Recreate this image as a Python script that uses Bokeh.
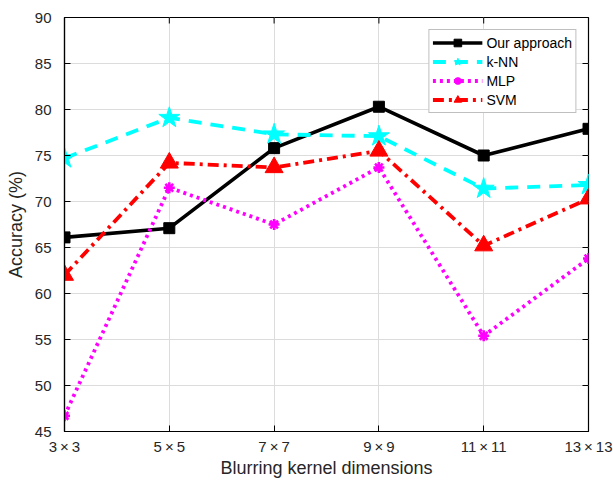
import math
from bokeh.plotting import figure
from bokeh.models import FixedTicker, Range1d
from bokeh.embed import file_html
from bokeh.resources import INLINE

kernel_sizes = [3, 5, 7, 9, 11, 13]
kernel_labels = ["3\u2009×\u20093", "5\u2009×\u20095", "7\u2009×\u20097", "9\u2009×\u20099",
                 "11\u2009×\u200911", "13\u2009×\u200913"]
y_ticks = [45, 50, 55, 60, 65, 70, 75, 80, 85, 90]

ours = [66.1, 67.1, 75.8, 80.3, 75.0, 77.9]
knn = [74.7, 79.1, 77.3, 77.1, 71.4, 71.8]
mlp = [46.7, 71.5, 67.5, 73.7, 55.4, 63.8]
svm = [62.0, 74.2, 73.7, 75.5, 65.2, 70.3]

FONT = "Liberation Sans"
X_MIN, X_MAX = kernel_sizes[0], kernel_sizes[-1]
Y_MIN, Y_MAX = y_ticks[0], y_ticks[-1]

p = figure(width=613, height=480, output_backend="svg", toolbar_location=None,
           x_range=Range1d(X_MIN, X_MAX), y_range=Range1d(Y_MIN, Y_MAX),
           min_border_left=64, min_border_right=25, min_border_top=17,
           min_border_bottom=49)
p.outline_line_color = "black"
p.outline_line_width = 1.2

for ax in (p.xaxis[0], p.yaxis[0]):
    ax.major_tick_in = 6
    ax.major_tick_out = 0
    ax.minor_tick_in = 0
    ax.minor_tick_out = 0
    ax.axis_line_color = "black"
    ax.axis_line_width = 1.2
    ax.major_tick_line_color = "black"
    ax.major_label_text_font = FONT
    ax.major_label_text_font_size = "15px"
    ax.major_label_text_color = "#262626"
    ax.axis_label_text_font = FONT
    ax.axis_label_text_font_size = "18px"
    ax.axis_label_text_font_style = "normal"
    ax.axis_label_text_color = "#262626"

p.xaxis.ticker = FixedTicker(ticks=kernel_sizes)
p.xaxis.major_label_overrides = {k: l for k, l in zip(kernel_sizes, kernel_labels)}
p.xaxis.axis_label = "Blurring kernel dimensions"
p.xaxis.axis_label_standoff = 0
p.xaxis.major_label_standoff = 6
p.yaxis.ticker = FixedTicker(ticks=y_ticks)
p.yaxis.axis_label = "Accuracy (%)"
p.yaxis.major_label_standoff = 13
p.yaxis.axis_label_standoff = 6

# inward ticks on the right and top edges of the box
p.ray(x=[X_MAX] * len(y_ticks), y=y_ticks, length=6, length_units="screen",
      angle=math.pi, color="black", line_width=1)
p.ray(x=kernel_sizes, y=[Y_MAX] * len(kernel_sizes), length=6, length_units="screen",
      angle=-math.pi / 2, color="black", line_width=1)

p.xgrid.ticker = FixedTicker(ticks=kernel_sizes)
p.ygrid.ticker = FixedTicker(ticks=y_ticks)
p.grid.grid_line_color = "#dcdcdc"
p.grid.grid_line_width = 1

p.line(kernel_sizes, ours, color="black", line_width=3.6, legend_label="Our approach")
p.scatter(kernel_sizes, ours, marker="square", size=11, color="black",
          legend_label="Our approach")

p.line(kernel_sizes, knn, color="cyan", line_width=3.8, line_dash="13 9", legend_label="k-NN")
p.scatter(kernel_sizes, knn, marker="star", size=22, color="cyan", legend_label="k-NN")

p.line(kernel_sizes, mlp, color="magenta", line_width=3.8, line_dash="3 4", legend_label="MLP")
p.scatter(kernel_sizes, mlp, marker="asterisk", size=11, line_width=2.6, color="magenta",
          legend_label="MLP")

p.line(kernel_sizes, svm, color="red", line_width=3.8, line_dash="11 5 3 5", legend_label="SVM")
p.scatter(kernel_sizes, svm, marker="triangle", size=18, color="red", legend_label="SVM")

lg = p.legend[0]
lg.location = "top_right"
lg.margin = 12
lg.padding = 3
lg.spacing = 0
lg.glyph_width = 50
lg.glyph_height = 19
lg.label_height = 19
lg.label_standoff = 4
lg.label_text_font = FONT
lg.label_text_font_size = "14px"
lg.label_text_color = "black"
lg.border_line_color = "#808080"
lg.border_line_width = 1
lg.background_fill_alpha = 1

open("out.html", "w").write(file_html(p, INLINE))
